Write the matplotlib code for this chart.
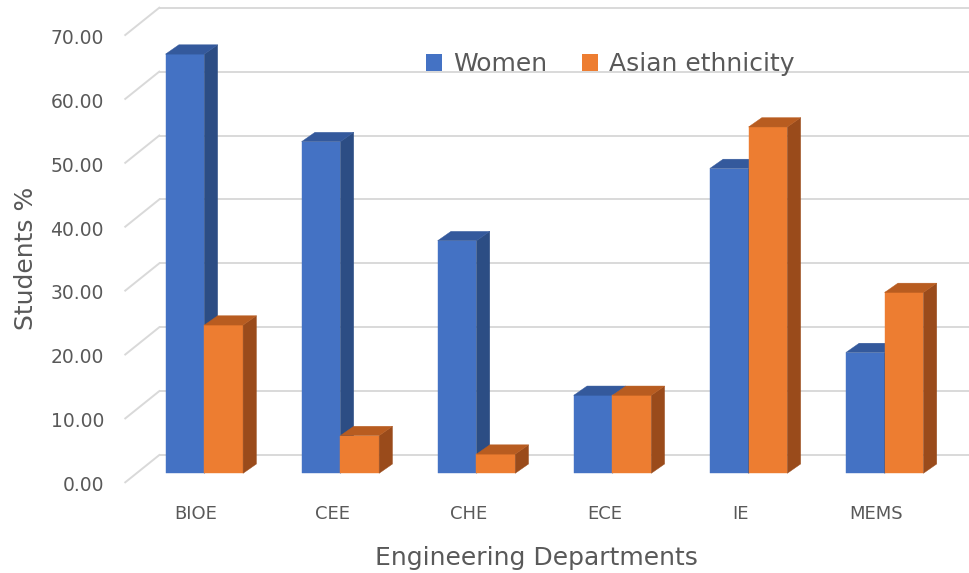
import numpy as np
import matplotlib.pyplot as plt
from matplotlib.patches import Polygon, Patch

# Share of women and of Asian-ethnicity students per department (%)
departments = ['BIOE', 'CEE', 'CHE', 'ECE', 'IE', 'MEMS']
women = [65.6, 51.9, 36.4, 12.2, 47.7, 18.9]
asian = [23.2, 5.9, 3.0, 12.2, 54.2, 28.3]
series_names = ['Women', 'Asian ethnicity']
yticks = np.arange(0, 71, 10)

# (front, side, top) shades for the fake-3D columns
blue = ('#4472C4', '#2C4D84', '#34599C')
orange = ('#ED7D31', '#9A4B1B', '#B85C20')
grid_c = '#D9D9D9'
text_c = '#595959'

bar_w = 0.285
depth_x, depth_y = 0.098, 1.46      # oblique depth of one column
wall_x, wall_dy = -0.331, 2.86      # back wall: left edge, lift
front_x, front_dy = -0.581, -1.41   # front edge of the floor

fig = plt.figure(figsize=(9.69, 5.73), dpi=100)
ax = fig.add_axes([0, 0, 1, 1])
ax.set_xlim(-1.5016, 5.6203)
ax.set_ylim(-15.60, 74.07)
ax.axis('off')

# back wall gridlines plus the slanted lines on the side wall
x_right = ax.get_xlim()[1]
for t in yticks:
    ax.plot([wall_x, x_right], [t + wall_dy] * 2, color=grid_c, lw=1.4, zorder=1,
            solid_capstyle='butt')
    ax.plot([front_x, wall_x], [t + front_dy, t + wall_dy], color=grid_c, lw=1.4,
            zorder=1)
    ax.text(-0.737, t + front_dy - 1.38, f'{t:.2f}', ha='right', va='baseline',
            fontsize=13.5, color=text_c)


def column(left, h, cols, z):
    ax.bar(left, h, width=bar_w, align='edge', color=cols[0], edgecolor=cols[0],
           linewidth=0.3, zorder=z)
    r = left + bar_w
    side = [(r, 0), (r + depth_x, depth_y), (r + depth_x, h + depth_y), (r, h)]
    top = [(left, h), (r, h), (r + depth_x, h + depth_y), (left + depth_x, h + depth_y)]
    ax.add_patch(Polygon(side, closed=True, fc=cols[1], ec=cols[1], lw=0.3, zorder=z))
    ax.add_patch(Polygon(top, closed=True, fc=cols[2], ec=cols[2], lw=0.3, zorder=z))


x = np.arange(len(departments))
for i in x:
    column(i - bar_w, women[i], blue, 2 + 2 * i)
    column(i, asian[i], orange, 3 + 2 * i)
    ax.text(i - 0.06, -7.15, departments[i], ha='center', va='baseline',
            fontsize=13, color=text_c)

fig.text(26 / 969, 1 - 258 / 573, 'Students %', rotation=90, ha='center',
         va='center', fontsize=18, color=text_c)
fig.text(536.5 / 969, 8 / 573, 'Engineering Departments', ha='center',
         va='baseline', fontsize=18, color=text_c)

handles = [Patch(facecolor=blue[0]), Patch(facecolor=orange[0])]
leg = ax.legend(handles, series_names, loc='center', bbox_to_anchor=(610 / 969, 0.888),
                bbox_transform=fig.transFigure, ncol=2, frameon=False, fontsize=18,
                handlelength=0.64, handleheight=0.64, handletextpad=0.44,
                columnspacing=1.4, borderpad=0, borderaxespad=0)
for txt in leg.get_texts():
    txt.set_color(text_c)
leg.set_zorder(20)

fig.savefig('out.png', dpi=100, facecolor='white')
